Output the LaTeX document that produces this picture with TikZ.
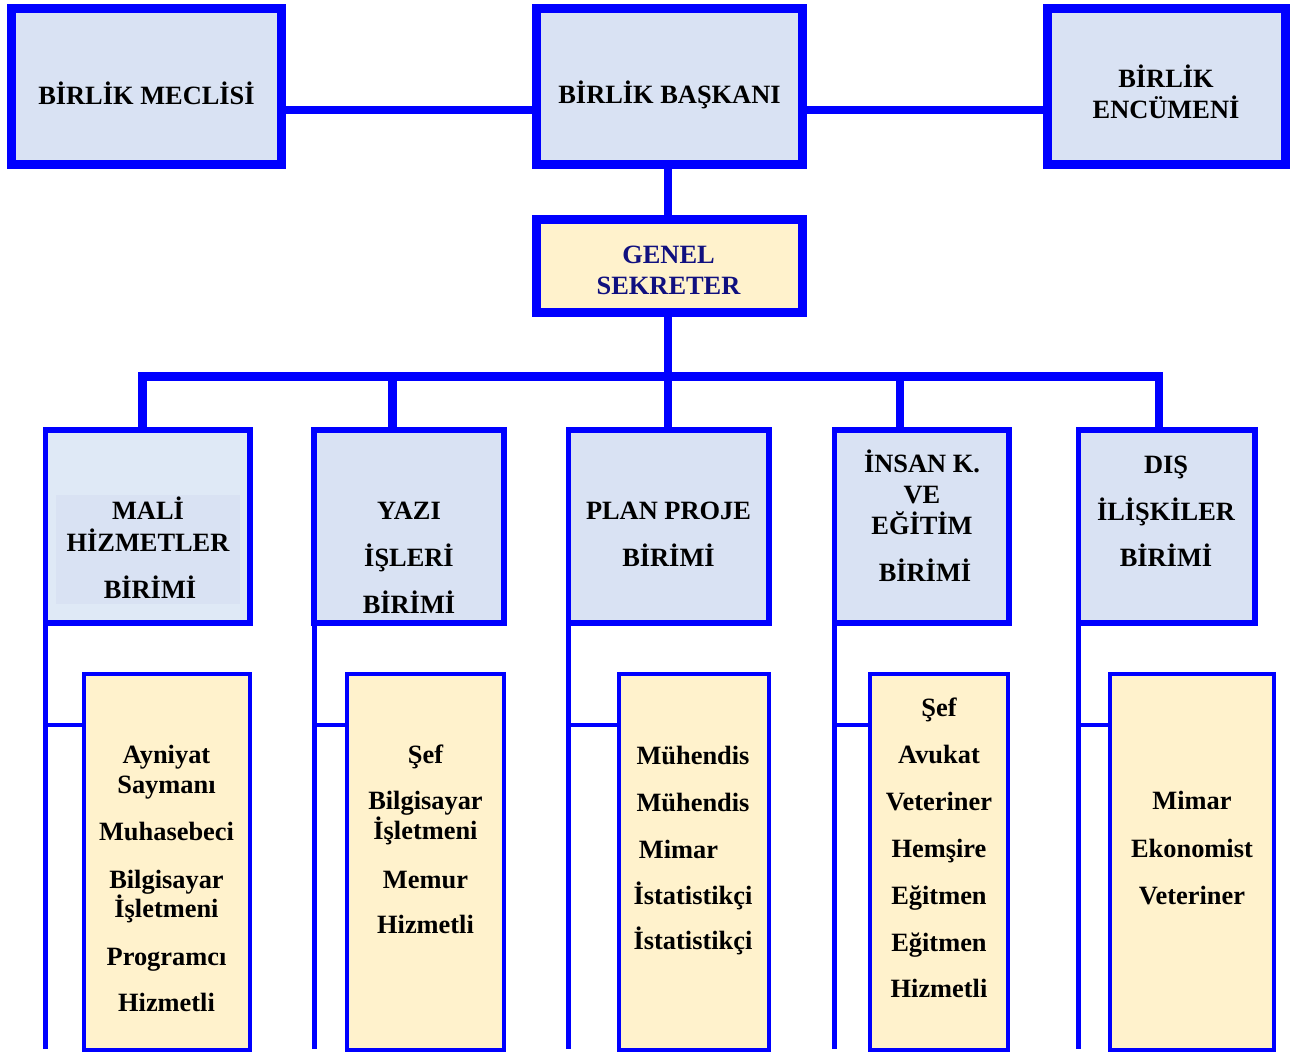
\documentclass[tikz,border=0pt]{standalone}
\usepackage{fontspec}
\setmainfont{Liberation Serif}
\definecolor{bblue}{HTML}{0000FF}
\definecolor{boxfill}{HTML}{D9E2F3}
\definecolor{boxfillb}{HTML}{DFE9F6}
\definecolor{yfill}{HTML}{FFF2CC}
\definecolor{navytxt}{HTML}{10107F}
\begin{document}
\begin{tikzpicture}[x=0.5pt,y=-0.5pt,
  topbox/.style 2 args={draw=bblue, line width=4.5pt, fill=boxfill, minimum width=#1*0.5pt, minimum height=#2*0.5pt, inner sep=0pt, outer sep=0pt},
  unitbox/.style 2 args={draw=bblue, line width=2.75pt, fill=boxfill, minimum width=#1*0.5pt, minimum height=#2*0.5pt, inner sep=0pt, outer sep=0pt},
  staffbox/.style 2 args={draw=bblue, line width=2pt, fill=yfill, minimum width=#1*0.5pt, minimum height=#2*0.5pt, inner sep=0pt, outer sep=0pt},
  conn/.style={draw=bblue, line width=4.2pt, line join=miter},
  lline/.style={draw=bblue, line width=2.5pt},
  stub/.style={draw=bblue, line width=2pt},
  txt/.style={anchor=base, inner sep=0pt, font=\bfseries\fontsize{13.2}{15.5}\selectfont}]
\useasboundingbox (0,0) rectangle (1296,1052);

% top row
\node[topbox={270}{156}] (meclis) at (146.5,86.5) {};
\node[topbox={266}{156}] (baskan) at (669,86.5) {};
\node[topbox={238}{156}] (encumen) at (1166.5,86.5) {};
\node[topbox={266}{93}, fill=yfill] (genel) at (669,266) {};

% units
\node[unitbox={204.5}{193}, fill=boxfillb] (u1) at (147.75,526.5) {};
\fill[boxfill] (56,495) rectangle (240,604);
\node[unitbox={190}{193}] (u2) at (409,526.5) {};
\node[unitbox={200.5}{193}] (u3) at (668.75,526.5) {};
\node[unitbox={174.5}{193}] (u4) at (921.75,526.5) {};
\node[unitbox={176.5}{193}] (u5) at (1166.75,526.5) {};

% staff boxes
\node[staffbox={166.5}{375.5}] (s1) at (166.75,862.25) {};
\node[staffbox={157}{375.5}] (s2) at (425.5,862.25) {};
\node[staffbox={150}{375.5}] (s3) at (694,862.25) {};
\node[staffbox={138}{375.5}] (s4) at (939,862.25) {};
\node[staffbox={164}{375.5}] (s5) at (1192,862.25) {};

% coordinates
\coordinate (hy) at (0,110);
\coordinate (bus) at (0,376.5);
\coordinate (d1) at (142.5,0);
\coordinate (d2) at (392.5,0);
\coordinate (d3) at (668,0);
\coordinate (d4) at (900,0);
\coordinate (d5) at (1159,0);
\coordinate (bot) at (0,1049);
\coordinate (sy) at (0,724.7);

% connectors
\draw[conn] (meclis.east |- hy) -- (baskan.west |- hy);
\draw[conn] (baskan.east |- hy) -- (encumen.west |- hy);
\draw[conn] (d3 |- baskan.south) -- (d3 |- genel.north);
\draw[conn] (d3 |- genel.south) -- (d3 |- u3.north);
\draw[conn] (d1 |- u1.north) -- (d1 |- bus) -- (d5 |- bus) -- (d5 |- u5.north);
\draw[conn] (d2 |- bus) -- (d2 |- u2.north);
\draw[conn] (d4 |- bus) -- (d4 |- u4.north);

\foreach \u/\s in {u1/s1,u2/s2,u3/s3,u4/s4,u5/s5}{
  \draw[lline] (\u.south west) -- (\u.south west |- bot);
  \draw[stub] (\u.south west |- sy) -- (\s.west |- sy);
}

% top texts
\node[txt] (tmeclis) at (146.5,104.5) {BİRLİK MECLİSİ};
\node[txt] (tbaskan) at (669.5,104) {BİRLİK BAŞKANI};
\node[txt] (tenc1) at (1166,87.3) {BİRLİK};
\node[txt] (tenc2) at (1166,118.3) {ENCÜMENİ};
\node[txt, text=navytxt] (tgen1) at (668.5,264) {GENEL};
\node[txt, text=navytxt] (tgen2) at (668.5,295) {SEKRETER};

% unit texts
\node[txt] (tu1a) at (148,520) {MALİ};
\node[txt] (tu1b) at (148,551.7) {HİZMETLER};
\node[txt] (tu1c) at (150,598.3) {BİRİMİ};
\node[txt] (tu2a) at (409,520) {YAZI};
\node[txt] (tu2b) at (409,566.7) {İŞLERİ};
\node[txt] (tu2c) at (409,613.3) {BİRİMİ};
\node[txt] (tu3a) at (668.5,520) {PLAN PROJE};
\node[txt] (tu3b) at (668.5,566.7) {BİRİMİ};
\node[txt] (tu4a) at (922,472.7) {İNSAN K.};
\node[txt] (tu4b) at (922,503.3) {VE};
\node[txt] (tu4c) at (922,535) {EĞİTİM};
\node[txt] (tu4d) at (925,581.7) {BİRİMİ};
\node[txt] (tu5a) at (1166,473.3) {DIŞ};
\node[txt] (tu5b) at (1166,520.7) {İLİŞKİLER};
\node[txt] (tu5c) at (1166,566.7) {BİRİMİ};

% staff texts
\foreach \t/\yy [count=\i] in {Ayniyat/764,Saymanı/793.3,Muhasebeci/841,Bilgisayar/888.3,İşletmeni/917.3,Programcı/965,Hizmetli/1011.7}
  \node[txt] (ta\i) at (166.5,\yy) {\t};
\foreach \t/\yy [count=\i] in {Şef/764,Bilgisayar/810,İşletmeni/840,Memur/888.3,Hizmetli/933.3}
  \node[txt] (tb\i) at (425.5,\yy) {\t};
\foreach \t/\yy [count=\i] in {Mühendis/765,Mühendis/811.7,İstatistikçi/905,İstatistikçi/950}
  \node[txt] (tc\i) at (693,\yy) {\t};
\node[txt] (tcm) at (678.5,858.3) {Mimar};
\foreach \t/\yy [count=\i] in {Şef/716.7,Avukat/764,Veteriner/810.7,Hemşire/857.3,Eğitmen/905,Eğitmen/951,Hizmetli/997.3}
  \node[txt] (td\i) at (939,\yy) {\t};
\foreach \t/\yy [count=\i] in {Mimar/810,Ekonomist/857.3,Veteriner/905}
  \node[txt] (te\i) at (1192,\yy) {\t};
\end{tikzpicture}
\end{document}
